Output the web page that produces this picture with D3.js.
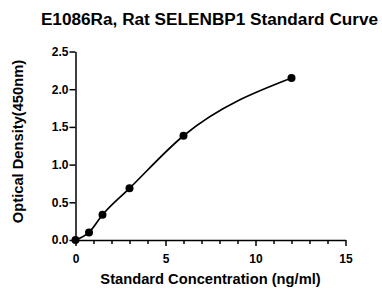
<!DOCTYPE html>
<html>
<head>
<meta charset="utf-8">
<script src="https://cdn.jsdelivr.net/npm/d3@7"></script>
<style>
  body { margin: 0; background: #fff; }
  text { font-family: "Liberation Sans", Arial, sans-serif; font-weight: bold; fill: #000; }
</style>
</head>
<body>
<svg id="chart" width="382" height="289"></svg>
<script>
// standard points
const concentration = [0, 0.75, 1.5, 3, 6, 12];
const density = [0, 0.10, 0.335, 0.686, 1.383, 2.148];
const xTicks = [0, 5, 10, 15];
const xMinorTicks = [1, 2, 3, 4, 6, 7, 8, 9, 11, 12, 13, 14];
const yTicks = [0, 0.5, 1.0, 1.5, 2.0, 2.5];

const svg = d3.select("#chart");

const x = d3.scaleLinear().domain([0, 15]).range([75.5, 345.5]);
const y = d3.scaleLinear().domain([0, 2.5]).range([240, 51.5]);

// title
svg.append("text")
  .attr("x", 209.5)
  .attr("y", 25)
  .attr("text-anchor", "middle")
  .style("font-size", "17.2px")
  .text("E1086Ra, Rat SELENBP1 Standard Curve");

// minor x ticks
svg.append("g")
  .attr("transform", "translate(0,240)")
  .call(d3.axisBottom(x).tickValues(xMinorTicks).tickSize(4).tickFormat(""))
  .call(g => g.select(".domain").remove())
  .selectAll("line").attr("stroke-width", 1.5);

// x axis
const gx = svg.append("g")
  .attr("transform", "translate(0,240)")
  .call(d3.axisBottom(x).tickValues(xTicks).tickSize(6).tickSizeOuter(0).tickPadding(8));
gx.selectAll("text").style("font-size", "12px").attr("font-family", null);

// y axis
const gy = svg.append("g")
  .attr("transform", "translate(75.5,0)")
  .call(d3.axisLeft(y).tickValues(yTicks).tickSize(6).tickSizeOuter(0).tickPadding(1).tickFormat(d3.format(".1f")));
gy.selectAll("text").style("font-size", "12px").attr("font-family", null);

svg.selectAll(".domain, .tick line").attr("stroke", "#000").attr("stroke-width", 1.5);

// axis titles
svg.append("text")
  .attr("x", 210.5)
  .attr("y", 284)
  .attr("text-anchor", "middle")
  .style("font-size", "14.7px")
  .text("Standard Concentration (ng/ml)");

svg.append("text")
  .attr("transform", "translate(23,141.5) rotate(-90)")
  .attr("text-anchor", "middle")
  .style("font-size", "14.7px")
  .text("Optical Density(450nm)");

// curve through the standards
const points = concentration.map((c, i) => [c, density[i]]);
const line = d3.line()
  .x(d => x(d[0]))
  .y(d => y(d[1]))
  .curve(d3.curveMonotoneX);

svg.append("path")
  .datum(points)
  .attr("d", line)
  .attr("fill", "none")
  .attr("stroke", "#000")
  .attr("stroke-width", 1.7);

svg.selectAll("circle.pt")
  .data(points)
  .join("circle")
  .attr("class", "pt")
  .attr("cx", d => x(d[0]))
  .attr("cy", d => y(d[1]))
  .attr("r", 4)
  .attr("fill", "#000");
</script>
</body>
</html>
